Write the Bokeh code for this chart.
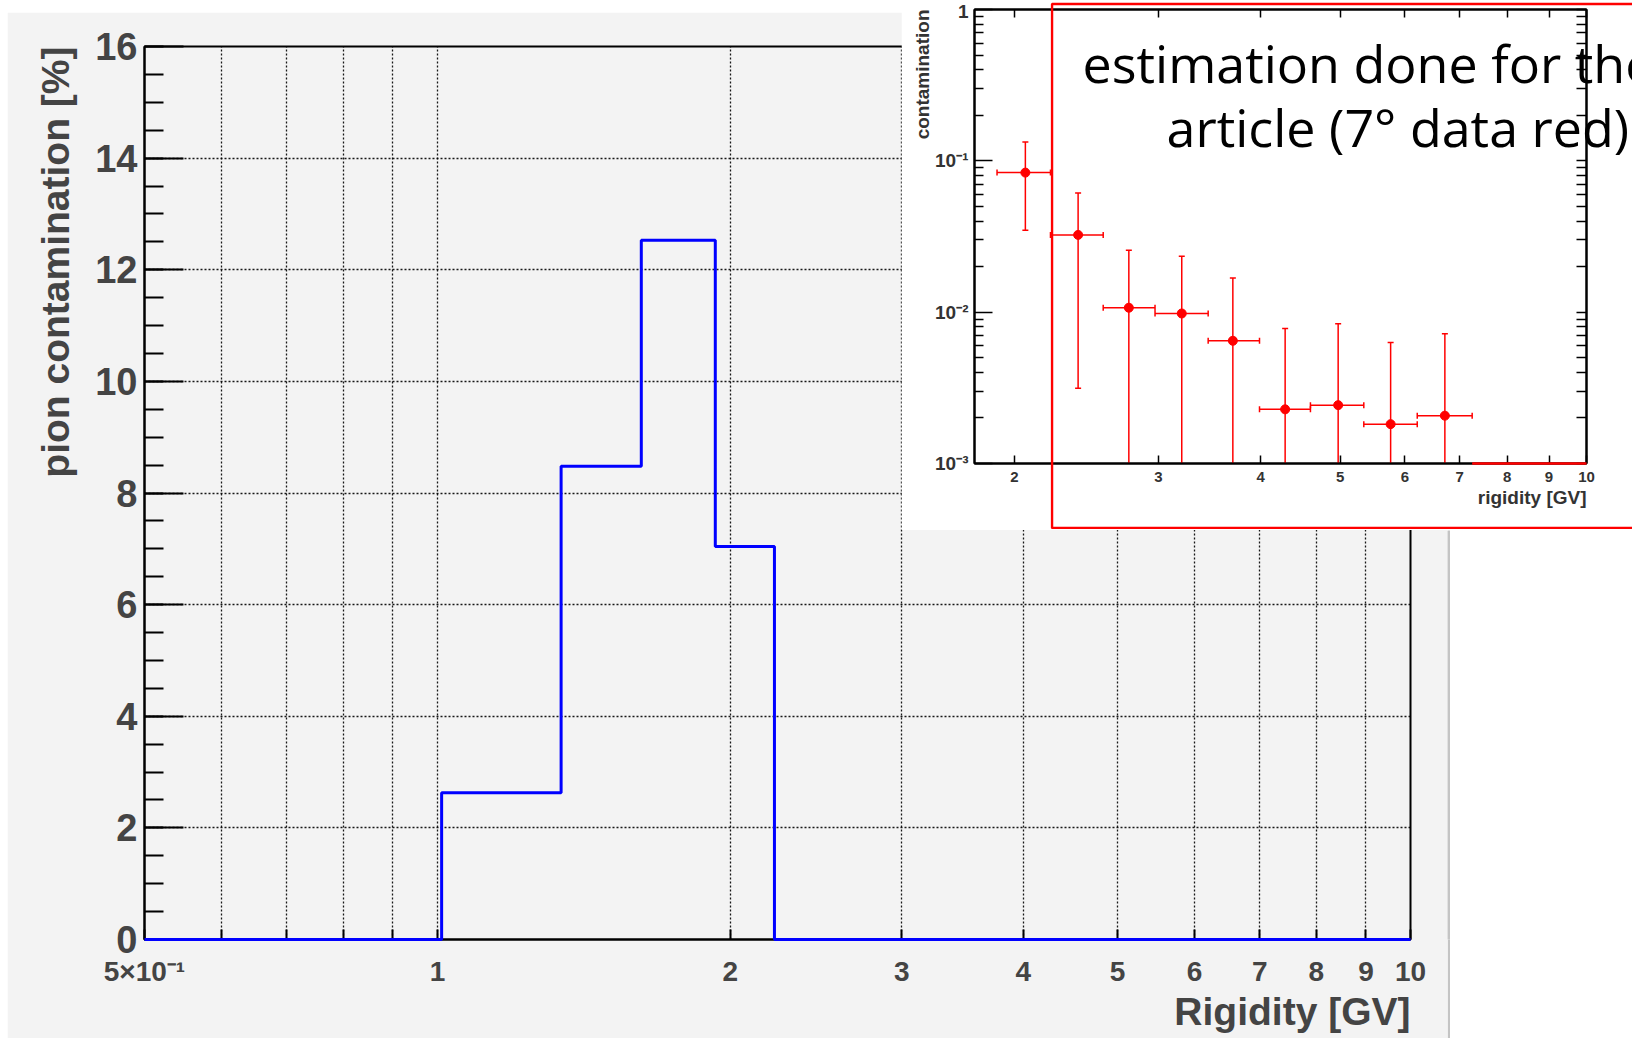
from bokeh.plotting import figure
from bokeh.models import (Range1d, FixedTicker, SingleIntervalTicker, LogAxis, Title,
                          ColumnDataSource, Whisker, TeeHead, BoxAnnotation, Label, GridBox)
from bokeh.embed import file_html
from bokeh.resources import INLINE

# ---------------- data ----------------
# main histogram: pion contamination [%] vs rigidity [GV]
rig_edges = [0.5, 1.01, 1.34, 1.62, 1.93, 2.22, 10.0]
pion_pct = [0.0, 2.63, 8.48, 12.53, 7.04, 0.0]

main_x_ticks = [0.5, 1, 2, 3, 4, 5, 6, 7, 8, 9, 10]
main_x_labels = ["5×10⁻¹", "1", "2", "3", "4", "5", "6", "7", "8", "9", "10"]
main_x_minor = [0.6, 0.7, 0.8, 0.9]

# inset: contamination vs rigidity (log-log) with errors
inset_x = [2.063, 2.393, 2.760, 3.203, 3.698, 4.284, 4.973, 5.764, 6.714]
inset_x_lo = [1.905, 2.214, 2.568, 2.971, 3.45, 3.986, 4.60, 5.345, 6.212]
inset_x_hi = [2.214, 2.568, 2.971, 3.45, 3.986, 4.60, 5.345, 6.212, 7.25]
inset_y = [0.0836, 0.0324, 0.0107, 0.0098, 0.00647, 0.00228, 0.00243, 0.00182, 0.00207]
inset_y_hi = [0.133, 0.0613, 0.0257, 0.0234, 0.0168, 0.0078, 0.0084, 0.0063, 0.0072]
inset_y_lo = [0.0348, 0.00314, 0.0, 0.0, 0.0, 0.0, 0.0, 0.0, 0.0]
zero_bins_lo = [7.25]
zero_bins_hi = [10.0]

inset_x_ticks = [2, 3, 4, 5, 6, 7, 8, 9, 10]
inset_y_ticks = [0.001, 0.01, 0.1, 1.0]
inset_y_labels = ["10⁻³", "10⁻²", "10⁻¹", "1"]

note_lines = ["estimation done for the", "article (7° data red)"]

FONT = "Liberation Sans"
GRAY = "#f3f3f3"

# ---------------- main plot ----------------
p = figure(width=1440, height=1026, x_axis_type="log",
           x_range=Range1d(0.5, 10), y_range=Range1d(0, 16),
           output_backend="svg", toolbar_location=None,
           background_fill_color=GRAY, border_fill_color=GRAY,
           min_border_left=137, min_border_right=37, min_border_top=34, min_border_bottom=99)
p.outline_line_color = "black"
p.outline_line_width = 2

xs = list(rig_edges)
ys = list(pion_pct) + [pion_pct[-1]]
p.step(xs, ys, mode="after", line_color="#0000ff", line_width=3, level="overlay")

xa = p.xaxis[0]
xa.ticker = FixedTicker(ticks=main_x_ticks, minor_ticks=main_x_minor)
xa.major_label_overrides = {t: l for t, l in zip(main_x_ticks, main_x_labels)}
xa.major_tick_in = 10
xa.major_tick_out = 0
xa.minor_tick_in = 10
xa.minor_tick_out = 0
xa.major_label_standoff = 16
xa.major_label_text_font = FONT
xa.major_label_text_font_style = "bold"
xa.major_label_text_font_size = "28px"
xa.axis_line_width = 2
xa.major_tick_line_width = 2
xa.minor_tick_line_width = 2

ya = p.yaxis[0]
ya.ticker = SingleIntervalTicker(interval=2, num_minor_ticks=4)
ya.major_tick_in = 39
ya.major_tick_out = 0
ya.minor_tick_in = 19
ya.minor_tick_out = 0
ya.major_tick_line_width = 2
ya.minor_tick_line_width = 2
ya.axis_line_width = 2
ya.major_label_standoff = 7
ya.major_label_text_font = FONT
ya.major_label_text_font_style = "bold"
ya.major_label_text_font_size = "38px"

p.xgrid.ticker = FixedTicker(ticks=main_x_ticks, minor_ticks=main_x_minor)
p.ygrid.ticker = SingleIntervalTicker(interval=2)
for g in (p.xgrid[0], p.ygrid[0]):
    g.grid_line_color = "#000000"
    g.grid_line_alpha = 0.9
    g.grid_line_dash = "2 2"
    g.grid_line_width = 1.3
p.xgrid[0].minor_grid_line_color = "#000000"
p.xgrid[0].minor_grid_line_alpha = 0.9
p.xgrid[0].minor_grid_line_dash = "2 2"
p.xgrid[0].minor_grid_line_width = 1.3

p.add_layout(Title(text="Rigidity [GV]", align="right", text_font=FONT, text_font_style="bold",
                   text_font_size="39px", standoff=-4, offset=0), "below")
p.add_layout(Title(text="pion contamination [%]", align="right", text_font=FONT, text_font_style="bold",
                   text_font_size="39px", standoff=31, offset=0), "left")

# right-hand shadow of the main canvas
sh = figure(width=3, height=508, output_backend="svg", toolbar_location=None,
            x_axis_location=None, y_axis_location=None, min_border=0,
            background_fill_color="#c4c4c4", border_fill_color="#c4c4c4")
sh.outline_line_color = None
sh.grid.visible = False

# ---------------- inset ----------------
q = figure(width=732, height=530, x_axis_type="log", y_axis_type="log",
           x_range=Range1d(1.788, 10), y_range=Range1d(0.001, 1),
           output_backend="svg", toolbar_location=None,
           background_fill_color="white", border_fill_color="white",
           min_border_left=73, min_border_right=47, min_border_top=9, min_border_bottom=67)
q.outline_line_color = "black"
q.outline_line_width = 2
q.grid.visible = False

minor_y = [m * d for d in (0.001, 0.01, 0.1) for m in range(2, 10)]

qx = q.xaxis[0]
qx.ticker = FixedTicker(ticks=inset_x_ticks)
qx.major_label_overrides = {t: str(t) for t in inset_x_ticks}
qx.major_tick_in = 8
qx.major_tick_out = 0
qx.minor_tick_in = 0
qx.minor_tick_out = 0
qx.major_label_standoff = 8
qx.major_label_text_font = FONT
qx.major_label_text_font_style = "bold"
qx.major_label_text_font_size = "15px"
qx.major_label_text_color = "#333333"
qx.axis_line_width = 2
qx.major_tick_line_width = 1.5

qy = q.yaxis[0]
qy.ticker = FixedTicker(ticks=inset_y_ticks, minor_ticks=minor_y)
qy.major_label_overrides = {t: l for t, l in zip(inset_y_ticks, inset_y_labels)}
qy.major_tick_in = 18
qy.major_tick_out = 0
qy.minor_tick_in = 9
qy.minor_tick_out = 0
qy.major_tick_line_width = 1.5
qy.minor_tick_line_width = 1.5
qy.axis_line_width = 2
qy.major_label_standoff = 6
qy.major_label_text_font = FONT
qy.major_label_text_font_style = "bold"
qy.major_label_text_font_size = "19px"
qy.major_label_text_color = "#333333"

ry = LogAxis(ticker=FixedTicker(ticks=[], minor_ticks=inset_y_ticks + minor_y),
             major_tick_in=0, major_tick_out=0, minor_tick_in=10, minor_tick_out=0,
             minor_tick_line_width=1.5, axis_line_width=2, major_label_standoff=0)
q.add_layout(ry, "right")
tx = LogAxis(ticker=FixedTicker(ticks=[], minor_ticks=inset_x_ticks),
             major_tick_in=0, major_tick_out=0, minor_tick_in=8, minor_tick_out=0,
             minor_tick_line_width=1.5, axis_line_width=2, major_label_standoff=0)
q.add_layout(tx, "above")

ylo_plot = [v if v > 0 else 1e-6 for v in inset_y_lo]
src = ColumnDataSource(dict(x=inset_x, y=inset_y, xlo=inset_x_lo, xhi=inset_x_hi,
                            ylo=ylo_plot, yhi=inset_y_hi))
q.add_layout(Whisker(source=src, base="x", lower="ylo", upper="yhi", dimension="height",
                     line_color="red", line_width=1.5,
                     upper_head=TeeHead(size=6, line_color="red", line_width=1.5),
                     lower_head=TeeHead(size=6, line_color="red", line_width=1.5)))
q.add_layout(Whisker(source=src, base="y", lower="xlo", upper="xhi", dimension="width",
                     line_color="red", line_width=1.5,
                     upper_head=TeeHead(size=6, line_color="red", line_width=1.5),
                     lower_head=TeeHead(size=6, line_color="red", line_width=1.5)))
q.scatter("x", "y", source=src, size=9, color="red")
q.segment(x0=zero_bins_lo, x1=zero_bins_hi, y0=[0.001] * len(zero_bins_lo), y1=[0.001] * len(zero_bins_lo),
          line_color="red", line_width=2.5, level="overlay")

q.add_layout(Title(text="rigidity [GV]", align="right", text_font=FONT, text_font_style="bold",
                   text_font_size="19px", text_color="#333333", standoff=0, offset=0), "below")
q.add_layout(Title(text="contamination", align="right", text_font=FONT, text_font_style="bold",
                   text_font_size="19px", text_color="#333333", standoff=0, offset=0), "left")

# ---------------- overlay: red box and note ----------------
o = figure(width=582, height=528, x_range=Range1d(0, 582), y_range=Range1d(528, 0),
           output_backend="svg", toolbar_location=None,
           x_axis_location=None, y_axis_location=None,
           min_border_left=0, min_border_right=0, min_border_top=0, min_border_bottom=0,
           background_fill_alpha=0, border_fill_alpha=0)
o.outline_line_color = None
o.grid.visible = False
o.add_layout(BoxAnnotation(left=1.5, right=640, top=2.5, bottom=526.5, fill_alpha=0,
                           line_color="red", line_alpha=1.0, line_width=2.5))
o.add_layout(Label(x=32, y=61, text=note_lines[0], text_font="Open Sans", text_font_size="52px",
                   text_baseline="alphabetic", text_color="black"))
o.add_layout(Label(x=116, y=125, text=note_lines[1], text_font="Open Sans", text_font_size="52px",
                   text_baseline="alphabetic", text_color="black"))

layout = GridBox(children=[(p, 2, 1, 3, 3), (sh, 4, 4), (q, 0, 2, 4, 5), (o, 1, 3, 2, 3)],
                 rows=["1px", "11px", "517px", "1px", "508px"],
                 cols=["7px", "894px", "149px", "397px", "3px", "182px", "1px"], spacing=0)

open("out.html", "w").write(file_html(layout, INLINE))
